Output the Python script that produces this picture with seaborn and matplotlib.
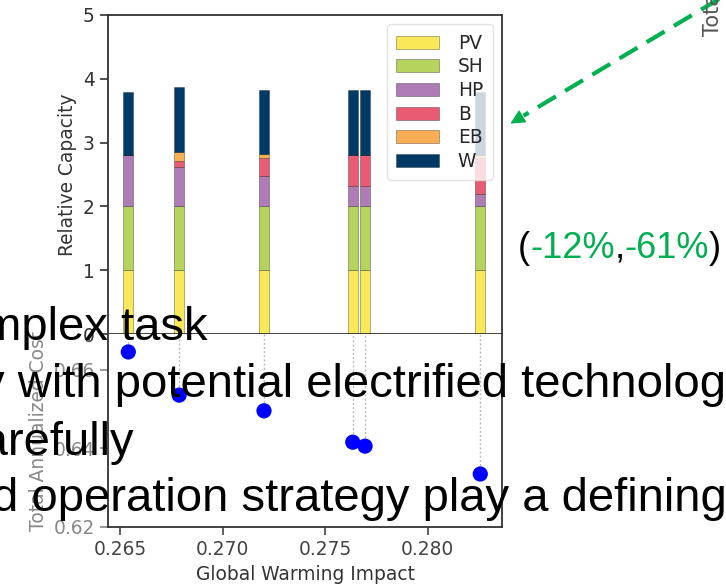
import numpy as np
import pandas as pd
import matplotlib
matplotlib.use("Agg")
import matplotlib.pyplot as plt
import seaborn as sns
from matplotlib.lines import Line2D
from matplotlib.patches import FancyArrowPatch

# ---------------- data ----------------
gwi = [0.2654, 0.26788, 0.27202, 0.27635, 0.27695, 0.28257]
cost = [0.6646, 0.6536, 0.6496, 0.6416, 0.6406, 0.6335]
techs = ["PV", "SH", "HP", "B", "EB", "W"]
pv = [1.0, 1.0, 1.0, 1.0, 1.0, 1.0]
sh = [1.0, 1.0, 1.0, 1.0, 1.0, 1.0]
hp = [0.80, 0.61, 0.47, 0.32, 0.32, 0.20]
b = [0.00, 0.10, 0.29, 0.49, 0.49, 0.56]
eb = [0.00, 0.14, 0.06, 0.00, 0.00, 0.04]
w = [1.00, 1.02, 1.00, 1.01, 1.01, 0.99]
tech_colors = ["#f9e858", "#b6d35e", "#b07cb8", "#e85b72", "#f8ae54", "#023a67"]

W_PX, H_PX = 726, 584
sns.set_style("white")
plt.rcParams["font.family"] = ["DejaVu Sans"]

fig = plt.figure(figsize=(W_PX / 100, H_PX / 100), dpi=100)
fig.patch.set_facecolor("white")

def fx(px):
    return px / W_PX

def fy(py):
    return 1 - py / H_PX

left, right = 108, 502
ax1 = fig.add_axes([fx(left), fy(334), fx(right) - fx(left), fy(15) - fy(334)])
ax2 = fig.add_axes([fx(left), fy(527), fx(right) - fx(left), fy(334) - fy(527)], sharex=ax1)

fs = 13.4
spine_c = "#333333"

# stacked bars
series = [pv, sh, hp, b, eb, w]
bottom = np.zeros(len(gwi))
for name, vals, col in zip(techs, series, tech_colors):
    ax1.bar(gwi, vals, width=0.00050, bottom=bottom, color=col, label=name,
            edgecolor=(0, 0, 0, 0.35), linewidth=0.6)
    bottom = bottom + np.array(vals)

ax1.set_ylim(0, 5)
ax1.set_xlim(0.26441, 0.28363)
ax1.set_yticks([0, 1, 2, 3, 4, 5])
ax1.set_ylabel("Relative Capacity", fontsize=fs, color="#333333")
ax1.tick_params(axis="y", labelsize=fs, colors="#333333", length=6, width=1.2, left=True)
ax1.tick_params(axis="x", bottom=False, labelbottom=False)
for s in ax1.spines.values():
    s.set_color(spine_c)
    s.set_linewidth(1.3)
leg = ax1.legend(loc="upper right", fontsize=fs, framealpha=0.8, edgecolor="#dddddd",
                 handlelength=2.3, handletextpad=1.0, borderpad=0.5,
                 borderaxespad=0.5, labelspacing=0.25)

# scatter + dotted guides
df = pd.DataFrame({"gwi": gwi, "cost": cost})
ylim2 = (0.62, 0.66917)
for xv, yv in zip(gwi, cost):
    ax2.plot([xv, xv], [yv, ylim2[1]], linestyle=(0, (1.5, 1.5)), color="#bbbbbb", lw=1.0, zorder=1)
sns.scatterplot(data=df, x="gwi", y="cost", ax=ax2, color="#0000ff", s=120,
                edgecolor="none", zorder=3)
ax2.set_ylim(*ylim2)
ax2.set_yticks([0.62, 0.64, 0.66])
ax2.set_xticks([0.265, 0.270, 0.275, 0.280])
ax2.set_xticklabels(["0.265", "0.270", "0.275", "0.280"])
ax2.set_xlabel("Global Warming Impact", fontsize=fs, color="#333333")
ax2.set_ylabel("Total Annualized Cost", fontsize=fs, color="#888888")
ax2.tick_params(axis="x", labelsize=fs, colors="#444444", length=6, width=1.2, bottom=True)
ax2.tick_params(axis="y", labelsize=fs, colors="#888888", length=6, width=1.2, left=True)
for s in ax2.spines.values():
    s.set_color(spine_c)
    s.set_linewidth(1.3)
ax2.spines["top"].set_visible(False)

# ---------------- slide overlay ----------------
slide_font = "Liberation Sans"
sfs = 34
fig.text(fx(208), fy(340), "complex task", ha="right", va="baseline",
         fontsize=sfs, family=slide_font, color="black")
fig.text(fx(-18.7), fy(397), "y with potential electrified technology", ha="left", va="baseline",
         fontsize=sfs, family=slide_font, color="black")
fig.text(fx(134), fy(455), "carefully", ha="right", va="baseline",
         fontsize=sfs, family=slide_font, color="black")
fig.text(fx(-8), fy(511), "d operation strategy play a defining role", ha="left", va="baseline",
         fontsize=sfs, family=slide_font, color="black")

# rotated fragment of the neighbouring chart's label
fig.text(fx(713), fy(36), "Total Annualized Cost", rotation=90, ha="center", va="bottom",
         fontsize=15, color="#555555")

# coloured annotation
green = "#00b050"
renderer = fig.canvas.get_renderer()
xp = 518
for piece, col in [("(", "black"), ("-12%", green), (",", "black"), ("-61%", green), (")", "black")]:
    t = fig.text(fx(xp), fy(258), piece, ha="left", va="baseline", fontsize=26,
                 family=slide_font, color=col)
    xp += t.get_window_extent(renderer).width

# dashed arrow
x0, y0 = 724, -4
x1, y1 = 508, 125
vx, vy = x1 - x0, y1 - y0
L = np.hypot(vx, vy)
ux, uy = vx / L, vy / L
hx, hy = x1 - ux * 18, y1 - uy * 18
fig.add_artist(Line2D([fx(x0), fx(hx)], [fy(y0), fy(hy)], transform=fig.transFigure,
                      color=green, lw=3.0, linestyle=(0, (5, 2.6))))
fig.add_artist(FancyArrowPatch((fx(hx + ux * 2), fy(hy + uy * 2)), (fx(x1), fy(y1)),
                               transform=fig.transFigure, arrowstyle="-|>",
                               mutation_scale=22, color=green, lw=1.0))

fig.savefig("out.png", dpi=100, facecolor="white")
